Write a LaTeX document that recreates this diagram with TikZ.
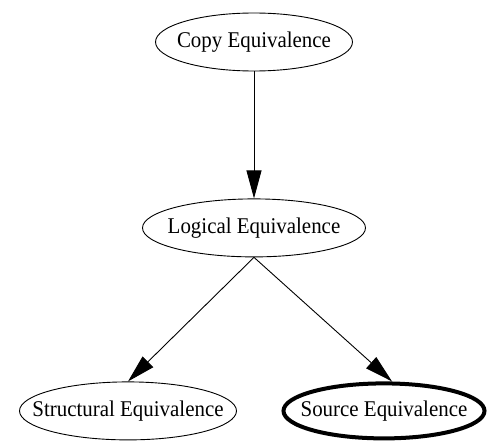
\documentclass[tikz,border=0pt]{standalone}
\usepackage{fontspec}
\setmainfont[FakeStretch=0.93]{Liberation Serif}
\usetikzlibrary{arrows.meta, positioning, calc, shapes.geometric}
\tikzset{
    eqnode/.style={ellipse, draw=black, line width=0.9pt, inner xsep=-40pt, inner ysep=0pt, minimum height=58pt, font=\fontsize{22.5}{26}\selectfont},
    boldnode/.style={eqnode, line width=4pt},
    arrow/.style={-{Triangle[length=28pt, width=15pt]}, line width=0.9pt, draw=black}
}

\begin{document}
\begin{tikzpicture}[x=1pt, y=1pt]
        \useasboundingbox (0,0) rectangle (488,-441);
        \node[eqnode, minimum width=197pt] (copy) at (254,-42) {Copy Equivalence};
        \node[eqnode, below=127pt of copy, minimum width=223pt] (logical) {Logical Equivalence};
        \node[eqnode, minimum width=217pt] (struct) at ($(logical)+(-126,-183)$) {Structural Equivalence};
        \node[boldnode, minimum width=201pt, minimum height=55pt] (source) at ($(logical)+(130,-183)$) {Source Equivalence};

        \draw[arrow] (copy) -- (logical);
        \draw[arrow] (logical.south) -- (struct.north);
        \draw[arrow] (logical.south) -- ($(source.north)+(8,0)$);
    \end{tikzpicture}
\end{document}
